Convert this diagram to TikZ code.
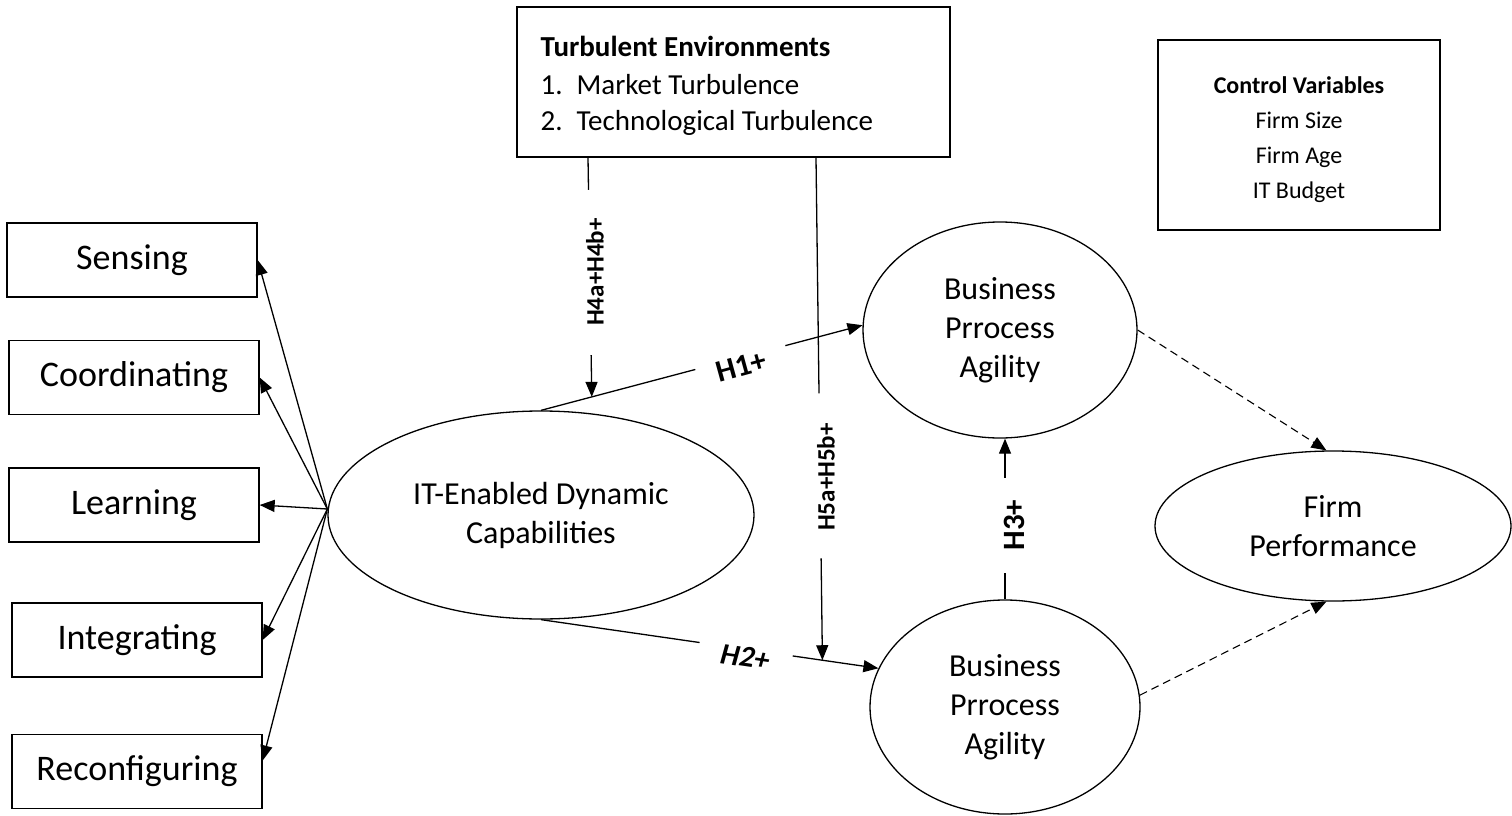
\documentclass[tikz,border=0pt]{standalone}
\usepackage{fontspec}
\setmainfont{Carlito}
\usetikzlibrary{arrows.meta,calc,shapes.geometric}
\begin{document}
\begin{tikzpicture}[x=1pt,y=-1pt,
 line width=1.3pt,
 box/.style={draw, rectangle, minimum width=250pt, minimum height=74pt, inner sep=0pt, font=\fontsize{36}{42}\selectfont},
 ell/.style={draw, ellipse, inner sep=0pt, align=center, font=\fontsize{32}{39}\selectfont},
 arr/.style={-{Triangle[length=15pt,width=12pt]}},
 dsh/.style={arr, dash pattern=on 8pt off 5pt, line width=1.1pt},
 gap/.style={fill=white, inner sep=0pt, minimum height=8pt, sloped},
 hl/.style={font=\fontsize{25}{30}\selectfont\bfseries, inner sep=0pt},
 hbig/.style={font=\fontsize{31}{36}\selectfont\bfseries, inner sep=0pt},
 hbigi/.style={font=\fontsize{30}{36}\selectfont\bfseries\itshape, inner sep=0pt},
 tt/.style={anchor=base west, inner sep=0pt, font=\fontsize{29}{35}\selectfont},
 ct/.style={anchor=base, inner sep=0pt, font=\fontsize{24}{30}\selectfont},
]
\useasboundingbox (0,0) rectangle (1512,816);

% left boxes
\node[box] (sens) at (132,260) {Sensing};
\node[box] (coord) at (134,377.5) {Coordinating};
\node[box] (learn) at (134,505) {Learning};
\node[box] (integ) at (137,640) {Integrating};
\node[box] (reconf) at (137,771.5) {Reconfiguring};

% ellipses
\node[ell, minimum width=426pt, minimum height=208pt] (itdc) at (541,515) {IT-Enabled Dynamic\\Capabilities};
\node[ell, minimum width=274pt, minimum height=216pt] (bpa1) at (1000,330) {Business\\Prrocess\\Agility};
\node[ell, minimum width=270pt, minimum height=214pt] (bpa2) at (1005,707) {Business\\Prrocess\\Agility};
\node[ell, minimum width=356pt, minimum height=150pt] (firm) at (1333,526) {Firm\\Performance};

% turbulent environments box
\node[draw, rectangle, minimum width=433pt, minimum height=150pt, inner sep=0pt] (turb) at (733.5,82) {};
\node[tt, font=\fontsize{29}{35}\selectfont\bfseries] (turbt) at (540,57) {Turbulent Environments};
\node[tt] (t1n) at (540,95) {1.};
\node[tt] (t1) at (576,95) {Market Turbulence};
\node[tt] (t2n) at (540,130) {2.};
\node[tt] (t2) at (576,130) {Technological Turbulence};

% control variables box
\node[draw, rectangle, minimum width=282pt, minimum height=190pt, inner sep=0pt] (ctrl) at (1299,135) {};
\node[ct, font=\fontsize{24}{30}\selectfont\bfseries] (c0) at (1299,93) {Control Variables};
\node[ct] (c1) at (1299,128) {Firm Size};
\node[ct] (c2) at (1299,163) {Firm Age};
\node[ct] (c3) at (1299,198) {IT Budget};

% indicator arrows
\coordinate (hub) at ([yshift=6pt]itdc.west);
\foreach \b in {sens,coord,learn,integ} \draw[arr] (hub) -- (\b.east);
\draw[arr] (hub) -- ([yshift=11pt]reconf.east);

% H1
\coordinate (h1end) at (bpa1.178);
\draw[arr] (itdc.north) -- node[gap, pos=.62, minimum width=93pt]{} (h1end);
\node[hbig, rotate=15.4] (h1) at (741,366) {H1+};

% H2
\coordinate (h2end) at (bpa2.163);
\draw[arr] (itdc.south) -- node[gap, pos=.608, minimum width=94pt]{} (h2end);
\node[hbigi, rotate=-8.3] (h2) at (745,657) {H2+};

% H4 moderation
\coordinate (h4top) at ([xshift=-145.5pt]turb.south);
\coordinate (h4end) at ($(itdc.north)!0.158!(h1end)$);
\draw[arr] (h4top) -- node[gap, pos=.48, minimum width=165pt]{} (h4end);
\node[hl, rotate=90] (h4) at (595,272) {H4a+H4b+};

% H5 moderation
\coordinate (h5top) at ([xshift=82.5pt]turb.south);
\coordinate (h5end) at ($(itdc.south)!0.834!(h2end)$);
\draw[arr] (h5top) -- node[gap, pos=.633, minimum width=165pt]{} (h5end);
\node[hl, rotate=90] (h5) at (826,477) {H5a+H5b+};

% H3
\draw[arr] (bpa2.north) -- node[gap, pos=.46, minimum width=95pt]{} (bpa2.north |- bpa1.south);
\node[hbig, rotate=90] (h3) at (1014,525) {H3+};

% dashed to firm performance
\draw[dsh] (bpa1.east) -- (firm.95);
\draw[dsh] (bpa2.5) -- (firm.265);
\end{tikzpicture}
\end{document}
